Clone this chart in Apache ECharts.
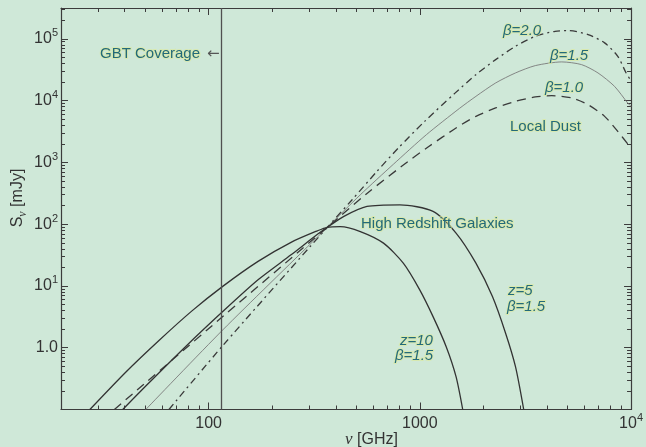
<!DOCTYPE html>
<html>
<head>
<meta charset="utf-8">
<script src="https://cdn.jsdelivr.net/npm/echarts@6/dist/echarts.min.js"></script>
<style>
html,body{margin:0;padding:0;background:#cfe8d8;}
#chart{width:646px;height:447px;}
</style>
</head>
<body>
<div id="chart"></div>
<script>
// ---------- data (frequency in GHz, flux density in mJy) ----------
const beta20Freq = [64.9, 116.6, 304.7, 364.8, 478, 626, 791, 1054, 1458, 1843, 2286, 2837, 3522, 4370, 5044, 6261, 7497, 8654, 9476, 10000];
const beta20Flux = [0.1, 1.08, 44.7, 89.1, 249, 715, 1712, 4618, 12990, 26380, 46180, 75880, 110200, 132800, 136300, 117400, 86130, 52240, 28100, 21000];

const beta15Freq = [50.4, 116.6, 327.6, 364.8, 522.8, 749.7, 1074, 1539, 1843, 2286, 2837, 3522, 4697, 5830, 6975, 8350, 9641, 10000];
const beta15Flux = [0.1, 1.94, 62.0, 89.1, 299.6, 935, 2812, 7473, 11740, 19360, 28100, 36930, 42390, 38330, 28100, 17050, 9177, 8084];

const beta10Freq = [35.8, 116.6, 364.8, 562, 820, 1094, 1484, 1843, 2286, 2837, 3522, 4217, 5233, 6261, 7497, 8654, 9850];
const beta10Flux = [0.1, 3.19, 89.1, 314.5, 864.7, 1777, 3610, 5565, 7612, 9743, 11480, 12050, 11060, 8613, 5565, 3180, 1820];

const z5Freq = [39.2, 50.4, 77.7, 116.6, 171.4, 245.6, 327.6, 364.8, 436.9, 562, 805, 1155, 1484, 1843, 2207, 2547, 2837, 3103];
const z5Flux = [0.1, 0.24, 1.04, 3.85, 12.6, 31.9, 68.6, 89.1, 134, 194, 206, 161, 71.8, 23.4, 6.73, 1.72, 0.494, 0.1];

const z10Freq = [27.4, 40.6, 58.2, 83.4, 116.6, 171.4, 245.6, 327.6, 364.8, 420, 522.8, 673, 835, 999, 1155, 1333, 1484, 1596];
const z10Flux = [0.1, 0.405, 1.31, 3.95, 9.85, 25.0, 50.9, 78.2, 89.1, 91.4, 76.1, 49.4, 23.4, 8.65, 3.19, 1.04, 0.34, 0.1];

const gbtFreq = 116;

// axis ranges and tick labels
const xRange = [20, 10000];
const yRange = [0.1, 316228];
const xMajorTicks = [100, 1000, 10000];
const yMajorTicks = [0.1, 1, 10, 100, 1000, 10000, 100000];
const yLabelTicks = [1, 10, 100, 1000, 10000, 100000];

// ---------- helpers ----------
const L = Math.log10;
function pts(f, s) { return f.map((v, i) => [L(v), L(s[i])]); }
function minorTicks(lo, hi) {
  const out = [];
  for (let e = Math.floor(L(lo)); e <= Math.ceil(L(hi)); e++) {
    for (let k = 2; k <= 9; k++) {
      const v = k * Math.pow(10, e);
      if (v > lo * 1.0001 && v < hi * 0.9999) out.push(L(v));
    }
  }
  return out;
}
const xMajor = xMajorTicks.map(L);
const xMinor = minorTicks(xRange[0], xRange[1]);
const yMajor = yMajorTicks.map(L);
const yMinor = minorTicks(yRange[0], yRange[1]);
const yLabels = yLabelTicks.map(L);

const axisColor = '#3c3c3c';
const labelRich = {
  b: { fontSize: 16, fontFamily: 'Liberation Sans', color: '#333', lineHeight: 22 },
  s: { fontSize: 11, fontFamily: 'Liberation Sans', color: '#333', verticalAlign: 'top', lineHeight: 12 }
};
function xLabel(v) {
  const r = Math.round(v);
  if (r <= 3) return '{b|' + Math.pow(10, r) + '}';
  return '{b|10}{s|' + r + '}';
}
function yLabel(v) {
  const r = Math.round(v);
  if (r === 0) return '{b|1.0}';
  return '{b|10}{s|' + r + '}';
}

function makeX(pos, major, labels) {
  return {
    type: 'value', position: pos, min: L(xRange[0]), max: L(xRange[1]),
    axisLine: { show: major, onZero: false, lineStyle: { color: axisColor, width: 1.2 } },
    axisTick: { show: true, inside: true, length: major ? 7 : 4, customValues: major ? xMajor : xMinor,
                lineStyle: { color: axisColor, width: 1 } },
    axisLabel: { show: labels, customValues: xMajor, formatter: xLabel, margin: 3, rich: labelRich },
    splitLine: { show: false }
  };
}
function makeY(pos, major, labels) {
  return {
    type: 'value', position: pos, min: L(yRange[0]), max: L(yRange[1]),
    axisLine: { show: major, onZero: false, lineStyle: { color: axisColor, width: 1.2 } },
    axisTick: { show: true, inside: true, length: major ? 7 : 4, customValues: major ? yMajor : yMinor,
                lineStyle: { color: axisColor, width: 1 } },
    axisLabel: { show: labels, customValues: yLabels, formatter: yLabel, margin: 3, rich: labelRich },
    splitLine: { show: false }
  };
}

function lineSeries(name, f, s, style) {
  return {
    name: name, type: 'line', xAxisIndex: 0, yAxisIndex: 0,
    data: pts(f, s), showSymbol: false, symbol: 'none', smooth: 0.25,
    lineStyle: style, silent: true, z: 3
  };
}

const annoFill = '#236a79';
const annoStroke = 'rgba(222,234,150,0.6)';
function anno(text, x, y, italic) {
  return {
    type: 'text', x: x, y: y, z: 10,
    style: {
      text: text, fill: annoFill, stroke: annoStroke, lineWidth: 2,
      font: (italic ? 'italic ' : '') + '15px "Liberation Sans"',
      align: 'left', verticalAlign: 'middle'
    }
  };
}

const chart = echarts.init(document.getElementById('chart'), null, { renderer: 'canvas' });
const series = [
  lineSeries('beta=2.0', beta20Freq, beta20Flux, { color: '#3a3a3a', width: 1.3, type: [7, 4, 2, 4] }),
  lineSeries('beta=1.5', beta15Freq, beta15Flux, { color: '#7a7a7a', width: 0.9, type: 'solid' }),
  lineSeries('beta=1.0', beta10Freq, beta10Flux, { color: '#3a3a3a', width: 1.3, type: [9, 6] }),
  lineSeries('z=5', z5Freq, z5Flux, { color: '#333', width: 1.3, type: 'solid' }),
  lineSeries('z=10', z10Freq, z10Flux, { color: '#333', width: 1.3, type: 'solid' })
];
series[4].markLine = {
  silent: true, symbol: ['none', 'none'], animation: false,
  label: { show: false },
  lineStyle: { color: '#505050', width: 1.3, type: 'solid' },
  data: [{ xAxis: L(gbtFreq) }]
};

chart.setOption({
  backgroundColor: '#cfe8d8',
  animation: false,
  grid: { left: 61, right: 10, top: 8, bottom: 37.5, containLabel: false },
  xAxis: [makeX('bottom', true, true), makeX('bottom', false, false), makeX('top', true, false), makeX('top', false, false)],
  yAxis: [makeY('left', true, true), makeY('left', false, false), makeY('right', true, false), makeY('right', false, false)],
  series: series,
  graphic: [
    anno('GBT Coverage', 100, 53.5, false),
    { type: 'text', x: 207, y: 54, z: 10, style: { text: '\u2190', fill: '#555', font: '15px "DejaVu Sans"', align: 'left', verticalAlign: 'middle' } },
    anno('\u03b2=2.0', 503, 31, true),
    anno('\u03b2=1.5', 550, 56, true),
    anno('\u03b2=1.0', 545, 87.5, true),
    anno('Local Dust', 510, 127, false),
    anno('High Redshift Galaxies', 361, 224, false),
    anno('z=5', 508, 291, true),
    anno('\u03b2=1.5', 507, 307, true),
    anno('z=10', 400, 341, true),
    anno('\u03b2=1.5', 395, 356, true),
    {
      type: 'text', x: 345, y: 440, z: 10,
      style: {
        text: '{n|\u03bd} [GHz]', fill: '#333', font: '16px "Liberation Sans"',
        align: 'left', verticalAlign: 'middle',
        rich: { n: { fontFamily: 'Liberation Serif', fontStyle: 'italic', fontSize: 17, color: '#333' } }
      }
    },
    {
      type: 'text', x: 18, y: 198, rotation: Math.PI / 2, z: 10,
      style: {
        text: '{s|S}{n|\u03bd}{s| [mJy]}', fill: '#333', font: '16px "Liberation Sans"',
        align: 'center', verticalAlign: 'middle',
        rich: {
          s: { fontFamily: 'Liberation Sans', fontSize: 16, lineHeight: 22, color: '#333' },
          n: { fontFamily: 'Liberation Serif', fontStyle: 'italic', fontSize: 12, color: '#333', verticalAlign: 'bottom', lineHeight: 13 }
        }
      }
    }
  ]
});
</script>
</body>
</html>
